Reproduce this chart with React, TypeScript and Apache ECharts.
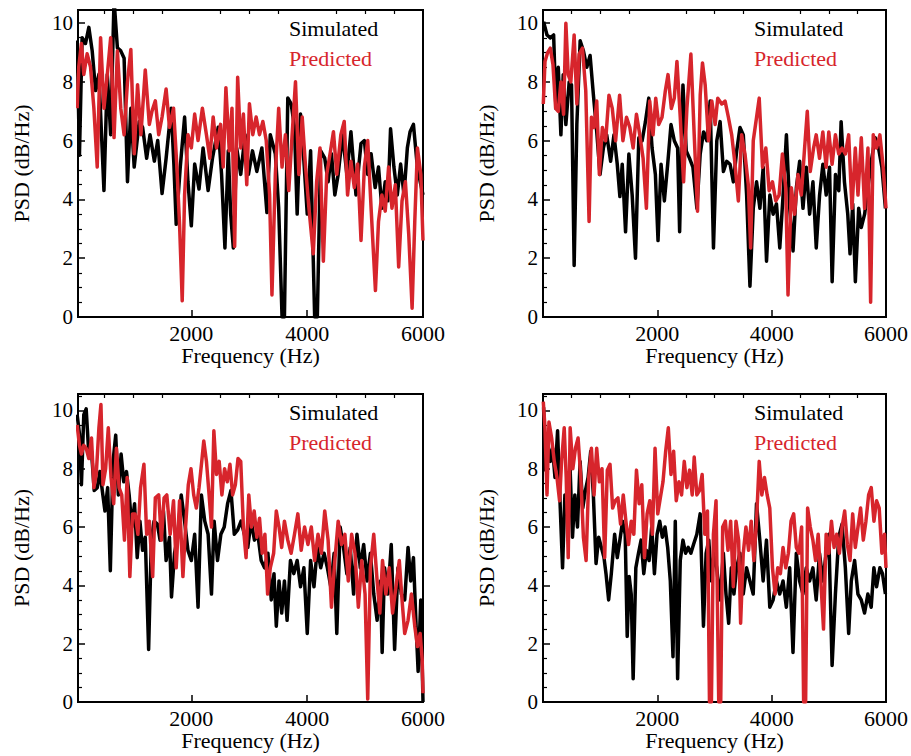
import React, { useEffect, useRef } from "react";
import * as echarts from "echarts";

const X_MAJOR_TICKS = [2000, 4000, 6000];
const X_MINOR_TICKS = [500, 1000, 1500, 2500, 3000, 3500, 4500, 5000, 5500];
const SERIES_NAMES = ["Simulated", "Predicted"];
const X_TITLE = "Frequency (Hz)";
const Y_TITLE = "PSD (dB/Hz)";

// [frequency Hz, PSD dB/Hz]
const TL_SIM: [number, number][] = [
  [30, 9.4], [70, 5.5], [116, 9.5], [174, 9.3], [232, 9.85], [290, 9.05], [348, 7.7], [406, 8.25], [493, 4.3], [551, 8.25],
  [609, 6.2], [667, 10.8], [725, 9.15], [783, 9.05], [841, 8.8], [899, 4.6], [957, 7.1], [1015, 5.1], [1102, 6.65], [1160, 6.45],
  [1230, 5.4], [1288, 6.2], [1363, 5.3], [1421, 6.0], [1496, 4.2], [1566, 5.4], [1653, 7.1], [1700, 5.2], [1740, 3.15], [1810, 5.1],
  [1885, 6.8], [1943, 4.6], [2001, 3.1], [2059, 5.2], [2134, 4.35], [2204, 5.75], [2291, 4.3], [2366, 5.4], [2465, 6.45], [2523, 4.85],
  [2581, 2.35], [2639, 5.65], [2680, 3.5], [2726, 2.35], [2784, 5.75], [2854, 4.85], [2929, 6.2], [2987, 4.85], [3057, 5.65], [3132, 4.95],
  [3219, 5.75], [3306, 3.55], [3364, 6.2], [3451, 5.55], [3509, 3.7], [3567, 0], [3608, 0], [3666, 7.45], [3724, 7.25], [3782, 6.45],
  [3828, 3.5], [3886, 6.9], [3944, 5.3], [4002, 3.5], [4060, 5.65], [4130, 0], [4176, 0], [4234, 5.65], [4304, 5.4], [4362, 4.6],
  [4420, 5.55], [4478, 4.15], [4536, 4.85], [4611, 6.2], [4686, 4.85], [4756, 6.3], [4843, 4.15], [4930, 5.9], [4988, 6.0], [5046, 4.85],
  [5104, 5.55], [5174, 4.4], [5232, 5.1], [5290, 3.7], [5348, 4.6], [5394, 3.95], [5440, 6.4], [5498, 5.1], [5556, 4.15], [5614, 5.2],
  [5672, 4.15], [5730, 5.75], [5777, 6.3], [5835, 6.55], [5893, 5.3], [5951, 4.6], [6000, 4.15],
];
const TL_PRED: [number, number][] = [
  [30, 7.1], [58, 8.5], [104, 9.3], [145, 8.25], [203, 8.95], [261, 8.5], [319, 7.1], [377, 5.1], [435, 9.5], [493, 7.1],
  [551, 8.25], [609, 9.5], [667, 6.1], [725, 9.05], [783, 7.1], [841, 6.2], [899, 8.0], [957, 9.1], [1015, 5.55], [1073, 7.9],
  [1131, 6.2], [1206, 8.4], [1276, 6.55], [1322, 7.0], [1380, 7.35], [1438, 6.2], [1496, 6.8], [1566, 7.75], [1624, 6.45], [1694, 7.1],
  [1752, 5.1], [1798, 3.15], [1844, 0.55], [1885, 4.15], [1943, 6.2], [2001, 5.75], [2059, 6.9], [2117, 6.0], [2192, 7.1], [2262, 6.2],
  [2320, 5.4], [2378, 6.8], [2436, 5.75], [2506, 6.55], [2552, 5.1], [2598, 7.8], [2656, 5.65], [2703, 7.1], [2749, 2.4], [2801, 8.15],
  [2854, 5.75], [2900, 6.9], [2958, 4.5], [3004, 7.25], [3062, 6.2], [3120, 6.8], [3178, 6.2], [3236, 6.65], [3294, 6.0], [3352, 4.15],
  [3393, 0.75], [3451, 4.85], [3509, 7.1], [3567, 5.1], [3625, 6.2], [3683, 4.3], [3741, 6.2], [3799, 8.0], [3857, 4.85], [3915, 6.8],
  [3973, 5.1], [4031, 3.7], [4106, 2.15], [4164, 4.6], [4222, 5.75], [4280, 1.9], [4338, 4.85], [4396, 5.55], [4454, 6.3], [4512, 4.85],
  [4582, 6.2], [4640, 6.65], [4698, 4.15], [4756, 5.3], [4814, 4.4], [4872, 5.2], [4930, 2.6], [4988, 5.1], [5046, 6.0], [5104, 3.7],
  [5179, 0.9], [5232, 3.25], [5290, 4.15], [5348, 3.6], [5406, 5.1], [5464, 3.7], [5522, 4.5], [5580, 1.7], [5638, 3.95], [5696, 4.6],
  [5754, 2.8], [5812, 0.3], [5858, 3.25], [5904, 5.75], [5962, 4.85], [6000, 2.6],
];
const TR_SIM: [number, number][] = [
  [10, 10.05], [70, 9.6], [128, 9.5], [186, 9.6], [226, 7.1], [267, 8.5], [313, 6.2], [354, 8.25], [400, 6.55], [458, 8.0],
  [499, 7.9], [545, 1.75], [592, 6.55], [650, 9.4], [708, 9.05], [766, 8.5], [824, 8.9], [882, 7.55], [940, 6.3], [998, 4.85],
  [1056, 5.75], [1114, 6.2], [1183, 5.3], [1241, 6.2], [1299, 5.2], [1345, 4.1], [1386, 5.2], [1444, 2.9], [1502, 5.55], [1560, 4.15],
  [1618, 2.0], [1676, 6.1], [1734, 6.0], [1792, 6.65], [1850, 7.45], [1908, 5.75], [1966, 4.85], [2012, 2.6], [2065, 5.2], [2123, 3.95],
  [2181, 5.2], [2239, 6.55], [2297, 6.0], [2355, 5.75], [2390, 2.9], [2448, 7.9], [2506, 5.65], [2564, 5.4], [2622, 5.1], [2692, 3.7],
  [2750, 5.55], [2808, 6.3], [2866, 6.0], [2924, 7.35], [2982, 2.35], [3040, 6.0], [3098, 6.65], [3156, 4.95], [3214, 5.3], [3272, 5.2],
  [3330, 4.6], [3388, 5.65], [3446, 6.45], [3504, 6.2], [3562, 4.15], [3620, 1.05], [3678, 3.7], [3736, 4.6], [3794, 3.7], [3852, 5.1],
  [3910, 1.9], [3968, 4.15], [4026, 3.5], [4084, 3.85], [4142, 2.35], [4200, 4.15], [4258, 6.2], [4316, 3.7], [4374, 2.25], [4432, 4.4],
  [4490, 5.3], [4548, 3.7], [4606, 5.1], [4664, 3.5], [4722, 4.6], [4780, 2.35], [4838, 4.15], [4896, 5.2], [4954, 4.15], [5012, 5.1],
  [5058, 1.2], [5116, 4.85], [5174, 4.3], [5215, 6.65], [5273, 4.6], [5331, 3.5], [5371, 2.15], [5418, 3.85], [5464, 1.2], [5522, 3.7],
  [5568, 3.05], [5626, 3.5], [5684, 4.4], [5742, 5.3], [5812, 6.1], [5870, 5.75], [5928, 5.1], [5990, 3.7],
];
const TR_PRED: [number, number][] = [
  [5, 7.25], [35, 8.7], [81, 9.0], [128, 9.15], [174, 8.6], [221, 7.1], [267, 7.0], [313, 8.0], [360, 6.9], [400, 10.0],
  [441, 8.25], [487, 8.0], [545, 9.6], [592, 7.25], [632, 8.95], [690, 9.15], [748, 7.7], [806, 3.25], [847, 6.8], [893, 6.45],
  [940, 7.35], [986, 4.85], [1038, 6.45], [1096, 6.0], [1154, 7.55], [1212, 7.1], [1270, 6.0], [1340, 7.55], [1398, 6.0], [1461, 6.8],
  [1519, 6.45], [1577, 5.75], [1635, 6.9], [1693, 6.2], [1751, 5.4], [1809, 3.7], [1867, 7.35], [1925, 6.2], [1972, 7.45], [2024, 6.55],
  [2082, 6.8], [2140, 7.7], [2187, 8.25], [2245, 7.1], [2297, 7.45], [2343, 8.7], [2401, 6.8], [2459, 4.6], [2517, 7.1], [2587, 8.95],
  [2645, 6.2], [2703, 3.6], [2750, 7.55], [2790, 8.65], [2837, 7.9], [2895, 6.0], [2953, 7.35], [3011, 6.55], [3057, 7.45], [3127, 7.25],
  [3185, 7.35], [3243, 6.8], [3301, 6.2], [3359, 5.2], [3417, 3.95], [3475, 6.2], [3533, 5.55], [3591, 4.5], [3632, 2.35], [3678, 6.0],
  [3736, 6.8], [3782, 7.45], [3840, 5.1], [3898, 5.75], [3956, 4.3], [4014, 4.6], [4072, 3.95], [4130, 4.15], [4188, 5.55], [4246, 4.4],
  [4286, 0.75], [4344, 4.4], [4402, 3.5], [4460, 4.85], [4518, 4.15], [4576, 5.75], [4623, 7.0], [4675, 4.95], [4733, 5.75], [4779, 6.2],
  [4837, 5.4], [4895, 6.3], [4953, 5.1], [4999, 6.3], [5057, 5.2], [5115, 6.2], [5173, 5.55], [5231, 5.75], [5289, 5.55], [5347, 6.2],
  [5405, 3.7], [5463, 5.75], [5510, 4.15], [5568, 6.1], [5626, 3.7], [5684, 5.75], [5731, 0.5], [5777, 6.2], [5835, 5.75], [5893, 6.2],
  [5951, 5.1], [6000, 3.7],
];
const BL_SIM: [number, number][] = [
  [30, 9.85], [70, 9.2], [104, 7.45], [145, 9.85], [186, 10.05], [232, 8.5], [278, 8.6], [325, 7.25], [377, 7.35], [423, 7.9],
  [464, 7.25], [510, 6.55], [557, 7.35], [603, 4.5], [650, 8.25], [696, 9.15], [742, 7.1], [789, 8.5], [835, 7.55], [882, 7.9],
  [928, 7.1], [974, 6.0], [1021, 6.8], [1067, 4.95], [1114, 6.2], [1160, 5.2], [1206, 5.65], [1264, 1.8], [1311, 5.55], [1357, 6.2],
  [1415, 6.1], [1462, 5.55], [1520, 6.55], [1566, 4.85], [1624, 5.65], [1659, 3.6], [1711, 5.1], [1769, 5.75], [1827, 7.1], [1885, 6.2],
  [1943, 5.2], [2001, 4.85], [2059, 5.75], [2117, 3.25], [2175, 7.1], [2233, 6.2], [2291, 5.75], [2349, 3.7], [2395, 6.2], [2453, 4.85],
  [2511, 5.75], [2569, 6.0], [2627, 6.8], [2685, 7.25], [2743, 5.75], [2801, 5.9], [2859, 6.2], [2917, 5.75], [2975, 5.3], [3033, 6.2],
  [3091, 5.55], [3149, 5.75], [3207, 4.85], [3265, 4.6], [3323, 5.1], [3381, 3.5], [3428, 4.4], [3468, 2.6], [3515, 4.15], [3561, 3.05],
  [3608, 4.15], [3654, 2.8], [3712, 4.85], [3770, 4.4], [3828, 4.85], [3886, 3.95], [3944, 4.6], [4002, 2.35], [4060, 4.85], [4118, 3.95],
  [4176, 5.3], [4234, 4.6], [4292, 5.1], [4350, 4.6], [4408, 3.95], [4466, 5.1], [4512, 2.35], [4570, 6.0], [4628, 5.3], [4686, 4.4],
  [4744, 5.3], [4802, 3.7], [4860, 5.75], [4918, 4.6], [4976, 5.4], [5034, 4.15], [5092, 5.1], [5150, 3.7], [5208, 2.8], [5266, 4.15],
  [5295, 1.7], [5336, 4.6], [5394, 3.7], [5452, 5.4], [5510, 1.8], [5568, 4.6], [5626, 3.7], [5684, 3.5], [5742, 5.3], [5788, 4.15],
  [5835, 4.95], [5881, 2.6], [5916, 1.05], [5962, 3.5], [6000, 0],
];
const BL_PRED: [number, number][] = [
  [30, 9.5], [70, 8.8], [104, 8.5], [145, 8.8], [186, 8.7], [232, 8.35], [278, 9.05], [319, 7.35], [360, 7.8], [406, 9.4],
  [441, 10.2], [476, 7.45], [522, 8.0], [568, 9.4], [615, 7.7], [661, 6.8], [708, 8.7], [754, 7.35], [800, 7.1], [847, 5.55],
  [893, 7.7], [940, 4.3], [986, 6.45], [1032, 6.45], [1079, 5.75], [1125, 7.35], [1183, 8.15], [1230, 5.75], [1276, 6.2], [1334, 4.3],
  [1380, 7.0], [1438, 7.1], [1485, 5.55], [1531, 7.0], [1578, 7.1], [1636, 5.75], [1694, 6.9], [1740, 4.6], [1798, 6.9], [1856, 4.3],
  [1902, 6.0], [1949, 7.45], [1995, 8.0], [2042, 7.1], [2088, 6.65], [2134, 7.35], [2181, 8.25], [2216, 8.95], [2262, 8.25], [2308, 7.1],
  [2349, 6.0], [2390, 9.3], [2436, 7.8], [2482, 8.25], [2529, 7.1], [2575, 8.0], [2622, 7.55], [2668, 8.15], [2714, 7.1], [2761, 7.45],
  [2807, 8.35], [2854, 8.25], [2900, 6.0], [2946, 4.95], [2993, 7.1], [3039, 6.0], [3086, 6.55], [3132, 5.65], [3178, 6.3], [3225, 5.1],
  [3271, 5.75], [3318, 3.7], [3364, 4.6], [3422, 5.1], [3468, 6.55], [3515, 6.0], [3561, 5.3], [3608, 6.2], [3666, 5.55], [3724, 5.1],
  [3782, 5.75], [3840, 6.45], [3898, 5.2], [3956, 6.0], [4014, 5.4], [4072, 6.0], [4130, 4.85], [4188, 5.75], [4246, 5.1], [4304, 6.55],
  [4362, 5.55], [4420, 3.25], [4478, 4.85], [4536, 6.2], [4594, 5.4], [4652, 5.75], [4710, 4.15], [4768, 5.75], [4826, 5.1], [4884, 3.25],
  [4942, 4.85], [5000, 3.7], [5046, 0.1], [5092, 4.6], [5150, 5.75], [5208, 4.15], [5255, 3.05], [5301, 4.85], [5359, 3.7], [5417, 4.6],
  [5475, 3.05], [5533, 3.95], [5591, 4.85], [5638, 3.5], [5684, 2.35], [5742, 2.8], [5800, 3.7], [5858, 2.6], [5904, 1.9], [5951, 2.35],
  [5986, 1.45], [6000, 0.3],
];
const BR_SIM: [number, number][] = [
  [10, 10.1], [46, 7.95], [81, 8.95], [128, 8.25], [168, 8.7], [209, 7.7], [255, 9.3], [302, 6.65], [342, 4.6], [383, 7.1],
  [429, 6.9], [475, 7.95], [516, 5.65], [557, 7.1], [603, 6.0], [649, 8.25], [696, 6.65], [742, 7.25], [789, 7.7], [835, 8.6],
  [881, 7.1], [928, 4.75], [974, 5.65], [1021, 5.3], [1067, 4.95], [1102, 4.4], [1148, 3.5], [1195, 4.4], [1253, 5.75], [1299, 4.95],
  [1345, 5.55], [1392, 6.2], [1438, 5.75], [1473, 2.25], [1508, 4.3], [1543, 3.7], [1577, 0.8], [1624, 4.6], [1670, 5.1], [1716, 5.55],
  [1763, 4.4], [1809, 5.2], [1856, 4.85], [1902, 6.0], [1949, 4.4], [1995, 5.75], [2042, 6.2], [2088, 5.65], [2135, 6.0], [2181, 5.3],
  [2227, 4.15], [2274, 1.55], [2314, 6.2], [2355, 0.8], [2401, 4.85], [2448, 5.55], [2494, 5.1], [2540, 5.3], [2587, 5.1], [2633, 5.4],
  [2691, 5.75], [2749, 6.45], [2807, 2.6], [2853, 5.1], [2900, 5.55], [2946, 4.15], [2993, 5.1], [3039, 4.6], [3097, 3.5], [3155, 5.1],
  [3201, 3.7], [3248, 2.7], [3294, 4.6], [3340, 3.7], [3387, 4.6], [3445, 5.1], [3503, 3.7], [3561, 4.6], [3619, 4.15], [3677, 3.7],
  [3735, 6.8], [3793, 5.55], [3851, 4.15], [3909, 5.55], [3967, 3.25], [4025, 3.5], [4083, 4.15], [4141, 3.7], [4199, 4.15], [4257, 3.25],
  [4315, 4.6], [4373, 1.7], [4431, 5.1], [4489, 4.15], [4547, 3.7], [4605, 4.6], [4663, 4.15], [4721, 4.6], [4779, 3.5], [4837, 5.1],
  [4895, 4.15], [4953, 5.1], [4999, 5.75], [5057, 1.25], [5115, 3.7], [5173, 5.65], [5231, 6.1], [5289, 4.6], [5347, 2.35], [5393, 4.15],
  [5451, 4.85], [5509, 3.7], [5567, 3.5], [5625, 3.05], [5683, 3.7], [5741, 3.25], [5788, 4.6], [5835, 3.95], [5893, 4.6], [5939, 4.4],
  [5990, 3.7],
];
const BR_PRED: [number, number][] = [
  [5, 10.3], [35, 9.4], [70, 7.1], [104, 9.6], [151, 9.05], [197, 8.25], [244, 7.7], [290, 6.9], [325, 8.25], [371, 9.4],
  [406, 7.7], [441, 4.95], [475, 9.4], [522, 8.0], [568, 8.7], [614, 9.05], [661, 7.7], [707, 5.65], [754, 4.85], [800, 7.7],
  [847, 8.7], [893, 7.1], [939, 8.7], [986, 7.55], [1032, 8.0], [1079, 4.95], [1125, 7.95], [1172, 8.15], [1218, 6.65], [1264, 6.9],
  [1311, 7.0], [1357, 6.1], [1404, 7.1], [1450, 6.2], [1496, 5.4], [1543, 6.2], [1589, 5.75], [1635, 7.95], [1682, 6.8], [1728, 7.45],
  [1775, 4.95], [1821, 6.45], [1868, 6.9], [1914, 5.75], [1960, 8.7], [2007, 6.45], [2053, 7.0], [2099, 7.55], [2146, 8.6], [2192, 9.4],
  [2239, 7.8], [2285, 8.6], [2331, 6.9], [2378, 7.55], [2424, 7.1], [2471, 8.25], [2517, 7.35], [2564, 7.95], [2610, 7.1], [2645, 8.4],
  [2691, 7.1], [2737, 7.25], [2784, 7.8], [2830, 5.75], [2877, 6.55], [2912, 0], [2946, 0], [2981, 5.75], [3027, 6.9], [3074, 0],
  [3109, 0], [3143, 6.0], [3190, 6.2], [3236, 5.2], [3283, 6.2], [3329, 3.95], [3376, 6.2], [3422, 5.55], [3457, 2.7], [3503, 5.1],
  [3550, 6.0], [3596, 5.2], [3642, 6.2], [3689, 4.85], [3735, 6.2], [3782, 8.25], [3828, 7.1], [3874, 7.7], [3921, 7.1], [3967, 6.65],
  [4014, 4.6], [4060, 3.7], [4106, 4.6], [4153, 4.4], [4199, 5.3], [4246, 4.6], [4292, 5.1], [4339, 6.2], [4385, 6.45], [4431, 5.3],
  [4478, 5.1], [4524, 6.0], [4559, 0], [4594, 0], [4629, 6.65], [4675, 6.0], [4721, 5.55], [4768, 4.85], [4814, 5.75], [4860, 4.15],
  [4907, 2.5], [4953, 5.75], [4999, 5.1], [5046, 6.2], [5092, 5.3], [5138, 5.75], [5185, 5.1], [5231, 6.0], [5277, 6.55], [5324, 5.4],
  [5370, 4.85], [5417, 6.45], [5463, 5.3], [5510, 6.0], [5556, 6.65], [5603, 5.55], [5649, 6.2], [5696, 7.1], [5742, 7.35], [5789, 6.2],
  [5835, 6.9], [5881, 6.65], [5928, 5.1], [5974, 5.75], [6000, 4.6],
];

const FONT = "'Liberation Serif', 'Times New Roman', serif";
const RED = "#d7252c";

const PANELS = [
  { sim: TL_SIM, pred: TL_PRED, left: 78, top: 10, width: 345, height: 307, xMin: 45, yMax: 10.44 },
  { sim: TR_SIM, pred: TR_PRED, left: 543, top: 10, width: 345, height: 307, xMin: 0, yMax: 10.45 },
  { sim: BL_SIM, pred: BL_PRED, left: 78, top: 394, width: 345, height: 308, xMin: 45, yMax: 10.56 },
  { sim: BR_SIM, pred: BR_PRED, left: 543, top: 394, width: 345, height: 308, xMin: 0, yMax: 10.56 },
];

export default function App() {
  const ref = useRef<HTMLDivElement>(null);
  useEffect(() => {
    if (!ref.current) return;
    const chart = echarts.init(ref.current, undefined, { renderer: "svg" });
    const grid: any[] = [];
    const xAxis: any[] = [];
    const yAxis: any[] = [];
    const series: any[] = [];
    const graphic: any[] = [];
    PANELS.forEach((p, i) => {
      grid.push({
        left: p.left, top: p.top, width: p.width, height: p.height,
        show: true, borderColor: "#000", borderWidth: 2, backgroundColor: "transparent",
      });
      xAxis.push({
        type: "value", gridIndex: i, min: p.xMin, max: 6000,
        name: X_TITLE, nameLocation: "middle", nameGap: 26,
        nameTextStyle: { fontFamily: FONT, fontSize: 22, color: "#000" },
        axisLine: { show: true, onZero: false, lineStyle: { color: "#000", width: 2 } },
        axisTick: { show: true, inside: true, length: 7, customValues: X_MAJOR_TICKS, lineStyle: { color: "#000", width: 1.5 } },
        axisLabel: {
          show: true, customValues: X_MAJOR_TICKS, margin: 5, fontFamily: FONT, fontSize: 22, color: "#000",
          formatter: (v: number) => String(Math.round(v)),
        },
        splitLine: { show: false },
      });
      xAxis.push({
        type: "value", gridIndex: i, min: p.xMin, max: 6000,
        axisLine: { show: false, onZero: false },
        axisTick: { show: true, inside: true, length: 4, customValues: X_MINOR_TICKS, lineStyle: { color: "#000", width: 1.2 } },
        axisLabel: { show: false },
        splitLine: { show: false },
      });
      yAxis.push({
        type: "value", gridIndex: i, min: 0, max: p.yMax, interval: 2,
        name: Y_TITLE, nameLocation: "middle", nameGap: 46, nameRotate: 90,
        nameTextStyle: { fontFamily: FONT, fontSize: 22, color: "#000" },
        axisLine: { show: true, onZero: false, lineStyle: { color: "#000", width: 2 } },
        axisTick: { show: true, inside: true, length: 7, lineStyle: { color: "#000", width: 1.5 } },
        minorTick: { show: true, splitNumber: 4, length: 4, lineStyle: { color: "#000", width: 1.2 } },
        axisLabel: {
          show: true, margin: 5, fontFamily: FONT, fontSize: 21, color: "#000",
          formatter: (v: number) => (v > 10.01 ? "" : String(v)),
        },
        splitLine: { show: false },
        minorSplitLine: { show: false },
      });
      series.push({
        type: "line", name: SERIES_NAMES[0], xAxisIndex: i * 2, yAxisIndex: i,
        data: p.sim, showSymbol: false, symbol: "none",
        lineStyle: { color: "#000", width: 3.5, join: "round" }, itemStyle: { color: "#000" }, z: 2,
      });
      series.push({
        type: "line", name: SERIES_NAMES[1], xAxisIndex: i * 2, yAxisIndex: i,
        data: p.pred, showSymbol: false, symbol: "none",
        lineStyle: { color: RED, width: 3.5, join: "round" }, itemStyle: { color: RED }, z: 3,
      });
      const lx = p.left + 211;
      graphic.push({
        type: "text", x: lx, y: p.top + 18,
        style: { text: SERIES_NAMES[0], fill: "#000", font: `22px ${FONT}`, textVerticalAlign: "middle" },
        z: 10,
      });
      graphic.push({
        type: "text", x: lx, y: p.top + 48,
        style: { text: SERIES_NAMES[1], fill: RED, font: `22px ${FONT}`, textVerticalAlign: "middle" },
        z: 10,
      });
    });
    chart.setOption({
      animation: false,
      backgroundColor: "#fff",
      grid, xAxis, yAxis, series, graphic,
    });
    return () => chart.dispose();
  }, []);
  return <div ref={ref} style={{ position: "absolute", left: 0, top: 0, width: 911, height: 756 }} />;
}
